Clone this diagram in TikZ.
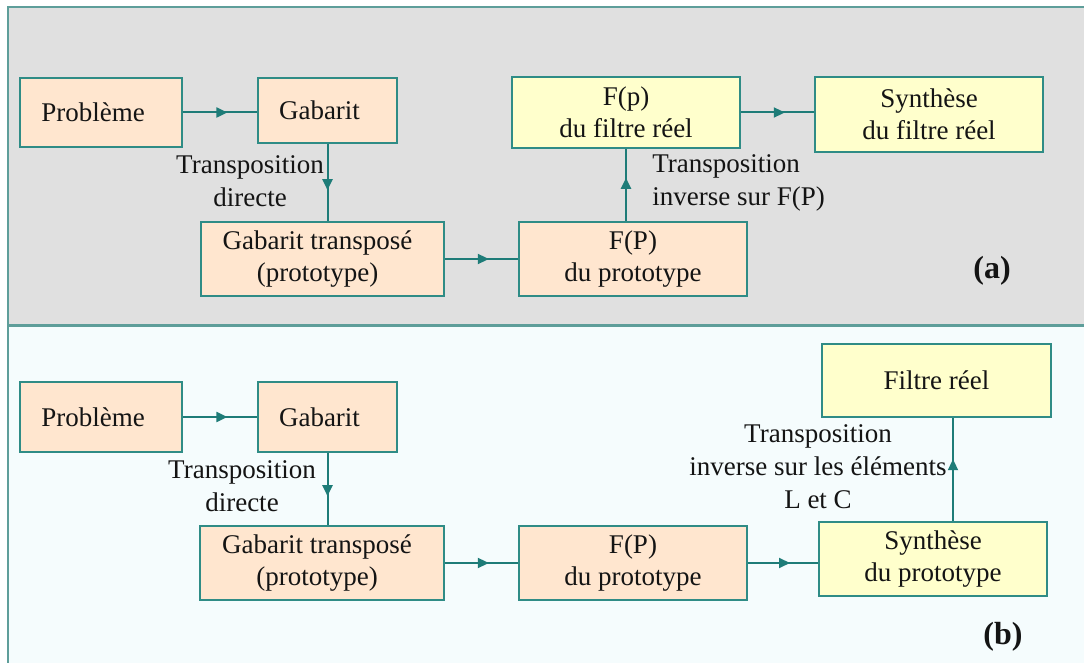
\documentclass[tikz,border=0pt]{standalone}
\usepackage{fontspec}
\setmainfont{Liberation Serif}
\newfontfamily\figfont{Liberation Serif}
\usetikzlibrary{arrows.meta,decorations.markings,calc}
\definecolor{panelgray}{HTML}{E0E0E0}
\definecolor{panellight}{HTML}{F5FCFD}
\definecolor{frameteal}{HTML}{5E9E9A}
\definecolor{boxteal}{HTML}{2F8C86}
\definecolor{lineteal}{HTML}{1E7C78}
\definecolor{peach}{HTML}{FFE6CF}
\definecolor{paleyellow}{HTML}{FFFFCC}
\definecolor{ink}{HTML}{141414}
\begin{document}
\begin{tikzpicture}[x=0.5pt,y=-0.5pt,
  every node/.style={font=\figfont\fontsize{13.5}{16}\selectfont, text=ink},
  pbox/.style={draw=boxteal, line width=1pt, fill=peach, align=center, inner sep=0pt},
  ybox/.style={pbox, fill=paleyellow},
  flow/.style={draw=lineteal, line width=1pt, postaction={decorate},
    decoration={markings, mark=at position 0.6 with {\arrow[lineteal]{Triangle[length=5.5pt,width=5pt]}}}},
  lbl/.style={align=center, inner sep=0pt, font=\figfont\fontsize{13.5}{16.5}\selectfont},
  tag/.style={inner sep=0pt, font=\figfont\bfseries\fontsize{16}{18}\selectfont}
]
\useasboundingbox (0,0) rectangle (1084,663);
\fill[white] (0,0) rectangle (1084,663);
\clip (0,0) rectangle (1084,663);
% panels
\fill[panellight] (8,326) rectangle (1090,670);
\fill[panelgray] (8,7) rectangle (1090,326);
\draw[frameteal, line width=1.2pt] (1090,7) -- (8,7) -- (8,670);
\draw[frameteal, line width=1.5pt] (8,326) -- (1090,326);

% panel (a)
\node[pbox, minimum width=81pt, minimum height=34.5pt] (pa1) at (101,112.5) {Problème\hspace*{8pt}};
\node[pbox, minimum width=69.5pt, minimum height=32.5pt] (ga1) at (327.5,110.5) {Gabarit\hspace*{8pt}};
\node[pbox, minimum width=121.5pt, minimum height=37pt] (gt1) at (322.5,259) {Gabarit transposé\hspace*{5pt}\\(prototype)\hspace*{5pt}};
\node[pbox, minimum width=114pt, minimum height=37pt] (fP1) at (633,259) {F(P)\\du prototype};
\node[ybox, minimum width=114pt, minimum height=35.5pt] (fp1) at (626,112.5) {F(p)\\du filtre réel};
\node[ybox, minimum width=114pt, minimum height=37.5pt] (sy1) at (929,114.5) {Synthèse\\du filtre réel};

\draw[flow] (pa1.east) -- (pa1.east -| ga1.west);
\draw[flow] (ga1.south) -- (ga1.south |- gt1.north);
\draw[flow] (gt1.east) -- (gt1.east -| fP1.west);
\draw[flow] (fp1.south |- fP1.north) -- (fp1.south);
\draw[flow] (fp1.east) -- (fp1.east -| sy1.west);

\node[lbl] (t1) at (250,181) {Transposition\\directe};
\node[lbl, align=left, anchor=west] (t2) at (652,183) {Transposition\\inverse sur F(P)};
\node[tag] (ta) at (992,271) {(a)};

% panel (b)
\node[pbox, minimum width=81pt, minimum height=35pt] (pa2) at (101,417) {Problème\hspace*{8pt}};
\node[pbox, minimum width=69.5pt, minimum height=35pt] (ga2) at (327.5,417) {Gabarit\hspace*{8pt}};
\node[pbox, minimum width=122pt, minimum height=37pt] (gt2) at (322,563) {Gabarit transposé\hspace*{5pt}\\(prototype)\hspace*{5pt}};
\node[pbox, minimum width=114pt, minimum height=37pt] (fP2) at (633,563) {F(P)\\du prototype};
\node[ybox, minimum width=114pt, minimum height=37pt] (sy2) at (933,559) {Synthèse\\du prototype};
\node[ybox, minimum width=114.5pt, minimum height=36.5pt] (fr2) at (936.5,380.5) {Filtre réel};

\draw[flow] (pa2.east) -- (pa2.east -| ga2.west);
\draw[flow] (ga2.south) -- (ga2.south |- gt2.north);
\draw[flow] (gt2.east) -- (gt2.east -| fP2.west);
\draw[flow] (fP2.east) -- (fP2.east -| sy2.west);
\coordinate (up) at ($(sy2.north)+(20,0)$);
\draw[flow] (up) -- (up |- fr2.south);

\node[lbl] (t3) at (242,486) {Transposition\\directe};
\node[lbl] (t4) at (818,467) {Transposition\\inverse sur les éléments\\L et C};
\node[tag] (tb) at (1003,637) {(b)};
\end{tikzpicture}
\end{document}
